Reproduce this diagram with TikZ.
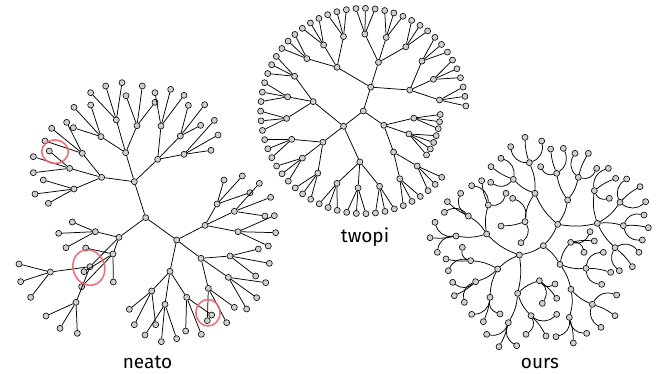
\documentclass[tikz,border=0pt]{standalone}
\usepackage{fontspec}
\setmainfont{Fira Sans}
\definecolor{nodegray}{RGB}{208,208,208}
\definecolor{flagred}{RGB}{238,98,106}
\begin{document}
\begin{tikzpicture}[x=1pt, y=-1pt,
    vtx/.style={circle, draw, fill=nodegray, line width=0.6pt, inner sep=0pt, minimum size=6pt},
    link/.style={line width=0.75pt},
    curl/.style={bend left=40}, uncurl/.style={bend right=40},
    flag/.style={draw=flagred, line width=1.6pt, draw opacity=0.9},
    lbl/.style={font=\fontsize{19}{22}\selectfont, anchor=base}]
\useasboundingbox (0,0) rectangle (658,373);

% ---------------- neato ----------------
\begin{scope}[shift={(0,70)}, scale=1/3]
% Marking centre and first ring
\node[vtx] (ne0) at (437,443) {};
\node[vtx] (ne1) at (403,335) {};
\node[vtx] (ne2) at (357,502) {};
\node[vtx] (ne3) at (530,510) {};
% Marking branch 1
\node[vtx] (ne11) at (305,322) {};
\node[vtx] (ne12) at (377,248) {};
\node[vtx] (ne13) at (473,268) {};
\node[vtx] (ne111) at (247,250) {};
\node[vtx] (ne112) at (209,295) {};
\node[vtx] (ne113) at (222,357) {};
\node[vtx] (ne121) at (303,200) {};
\node[vtx] (ne122) at (349,150) {};
\node[vtx] (ne123) at (411,167) {};
\node[vtx] (ne131) at (483,168) {};
\node[vtx] (ne132) at (541,198) {};
\node[vtx] (ne133) at (552,253) {};
\node[vtx] (ne111a) at (155,175) {}; \node[vtx] (ne111b) at (200,157) {}; \node[vtx] (ne111c) at (135,213) {};
\node[vtx] (ne112a) at (148,243) {}; \node[vtx] (ne112b) at (100,260) {}; \node[vtx] (ne112c) at (100,308) {};
\node[vtx] (ne113a) at (130,330) {}; \node[vtx] (ne113b) at (105,372) {}; \node[vtx] (ne113c) at (145,400) {};
\node[vtx] (ne121a) at (222,112) {}; \node[vtx] (ne121b) at (272,105) {}; \node[vtx] (ne121c) at (220,173) {};
\node[vtx] (ne122a) at (272,68) {};  \node[vtx] (ne122b) at (317,48) {};  \node[vtx] (ne122c) at (366,38) {};
\node[vtx] (ne123a) at (378,77) {};  \node[vtx] (ne123b) at (427,48) {};  \node[vtx] (ne123c) at (465,97) {};
\node[vtx] (ne131a) at (465,68) {};  \node[vtx] (ne131b) at (512,58) {};  \node[vtx] (ne131c) at (552,76) {};
\node[vtx] (ne132a) at (565,106) {}; \node[vtx] (ne132b) at (614,104) {}; \node[vtx] (ne132c) at (602,166) {};
\node[vtx] (ne133a) at (643,151) {}; \node[vtx] (ne133b) at (654,195) {}; \node[vtx] (ne133c) at (633,241) {};
% Marking branch 3
\node[vtx] (ne31) at (615,466) {};
\node[vtx] (ne32) at (603,565) {};
\node[vtx] (ne33) at (510,604) {};
\node[vtx] (ne311) at (651,402) {};
\node[vtx] (ne312) at (703,424) {};
\node[vtx] (ne313) at (714,485) {};
\node[vtx] (ne321) at (690,558) {};
\node[vtx] (ne322) at (685,622) {};
\node[vtx] (ne323) at (625,655) {};
\node[vtx] (ne331) at (455,663) {};
\node[vtx] (ne332) at (495,703) {};
\node[vtx] (ne333) at (560,682) {};
\node[vtx] (ne311a) at (672,330) {}; \node[vtx] (ne311b) at (727,318) {}; \node[vtx] (ne311c) at (750,368) {};
\node[vtx] (ne312a) at (778,340) {}; \node[vtx] (ne312b) at (812,382) {}; \node[vtx] (ne312c) at (795,438) {};
\node[vtx] (ne313a) at (823,437) {}; \node[vtx] (ne313b) at (827,488) {}; \node[vtx] (ne313c) at (805,528) {};
\node[vtx] (ne321a) at (775,537) {}; \node[vtx] (ne321b) at (808,580) {}; \node[vtx] (ne321c) at (767,618) {};
\node[vtx] (ne322a) at (797,638) {}; \node[vtx] (ne322b) at (770,683) {}; \node[vtx] (ne322c) at (740,717) {};
\node[vtx] (ne323a) at (703,712) {}; \node[vtx] (ne323b) at (680,758) {}; \node[vtx] (ne323c) at (622,752) {};
\node[vtx] (ne331a) at (388,718) {}; \node[vtx] (ne331b) at (403,764) {}; \node[vtx] (ne331c) at (467,764) {};
\node[vtx] (ne332a) at (435,795) {}; \node[vtx] (ne332b) at (484,815) {}; \node[vtx] (ne332c) at (530,806) {};
\node[vtx] (ne333a) at (557,783) {}; \node[vtx] (ne333b) at (604,793) {}; \node[vtx] (ne333c) at (635,735) {};
% Marking branch 2
\node[vtx] (ne21) at (286,485) {};
\node[vtx] (ne22) at (339,552) {};
\node[vtx] (ne23) at (270,590) {};
\node[vtx] (ne231) at (151,606) {};
\node[vtx] (ne232) at (228,697) {};
\node[vtx] (ne21a) at (217,456) {}; \node[vtx] (ne21b) at (176,490) {}; \node[vtx] (ne21c) at (198,533) {};
\node[vtx] (ne22a) at (257,534) {}; \node[vtx] (ne22b) at (252,605) {}; \node[vtx] (ne22c) at (245,650) {}; \node[vtx] (ne22d) at (340,636) {};
\node[vtx] (ne231a) at (57,582) {};  \node[vtx] (ne231b) at (62,635) {};  \node[vtx] (ne231c) at (92,682) {};
\node[vtx] (ne232a) at (138,738) {}; \node[vtx] (ne232b) at (180,775) {}; \node[vtx] (ne232c) at (232,790) {};
% Drawing segments
\draw[link] (ne0) edge (ne1) edge (ne2) edge (ne3);
\draw[link] (ne1) edge (ne11) edge (ne12) edge (ne13);
\draw[link] (ne11) edge (ne111) edge (ne112) edge (ne113);
\draw[link] (ne12) edge (ne121) edge (ne122) edge (ne123);
\draw[link] (ne13) edge (ne131) edge (ne132) edge (ne133);
\draw[link] (ne111) edge (ne111a) edge (ne111b) edge (ne111c);
\draw[link] (ne112) edge (ne112a) edge (ne112b) edge (ne112c);
\draw[link] (ne113) edge (ne113a) edge (ne113b) edge (ne113c);
\draw[link] (ne121) edge (ne121a) edge (ne121b) edge (ne121c);
\draw[link] (ne122) edge (ne122a) edge (ne122b) edge (ne122c);
\draw[link] (ne123) edge (ne123a) edge (ne123b) edge (ne123c);
\draw[link] (ne131) edge (ne131a) edge (ne131b) edge (ne131c);
\draw[link] (ne132) edge (ne132a) edge (ne132b) edge (ne132c);
\draw[link] (ne133) edge (ne133a) edge (ne133b) edge (ne133c);
\draw[link] (ne3) edge (ne31) edge (ne32) edge (ne33);
\draw[link] (ne31) edge (ne311) edge (ne312) edge (ne313);
\draw[link] (ne32) edge (ne321) edge (ne322) edge (ne323);
\draw[link] (ne33) edge (ne331) edge (ne332) edge (ne333);
\draw[link] (ne311) edge (ne311a) edge (ne311b) edge (ne311c);
\draw[link] (ne312) edge (ne312a) edge (ne312b) edge (ne312c);
\draw[link] (ne313) edge (ne313a) edge (ne313b) edge (ne313c);
\draw[link] (ne321) edge (ne321a) edge (ne321b) edge (ne321c);
\draw[link] (ne322) edge (ne322a) edge (ne322b) edge (ne322c);
\draw[link] (ne323) edge (ne323a) edge (ne323b) edge (ne323c);
\draw[link] (ne331) edge (ne331a) edge (ne331b) edge (ne331c);
\draw[link] (ne332) edge (ne332a) edge (ne332b) edge (ne332c);
\draw[link] (ne333) edge (ne333a) edge (ne333b) edge (ne333c);
\draw[link] (ne2) edge (ne21) edge (ne22) edge (ne23);
\draw[link] (ne21) edge (ne21a) edge (ne21b) edge (ne21c);
\draw[link] (ne22) edge (ne22a) edge (ne22b) edge (ne22c) edge (ne22d);
\draw[link] (ne23) edge (ne231) edge (ne232);
\draw[link] (ne231) edge (ne231a) edge (ne231b) edge (ne231c);
\draw[link] (ne232) edge (ne232a) edge (ne232b) edge (ne232c);
\end{scope}

% Marking the overlaps
\draw[flag] (55,151.7) ellipse [x radius=13.3, y radius=11.7];
\draw[flag, rotate around={20:(88.8,267.5)}] (88.8,267.5) ellipse [x radius=15.7, y radius=18];
\draw[flag] (208,312.7) ellipse [x radius=12, y radius=13.3];

% ---------------- twopi ----------------
\begin{scope}[shift={(363.3,111)}, yscale=-1]
% Marking rings 0 to 2
\node[vtx] (tw0) at (0:0) {};
\node[vtx] (twA) at (72.7:25) {};
\node[vtx] (twB) at (217.7:25) {};
\node[vtx] (twC) at (325.2:25) {};
\node[vtx] (twA1) at (121.0:51) {}; \node[vtx] (twA2) at (72.7:51) {};  \node[vtx] (twA3) at (24.3:51) {};
\node[vtx] (twB1) at (266.1:51) {}; \node[vtx] (twB2) at (217.7:51) {}; \node[vtx] (twB3) at (169.4:51) {};
\node[vtx] (twC1) at (352.0:51) {}; \node[vtx] (twC2) at (333.3:51) {}; \node[vtx] (twC3) at (306.4:51) {};
% Marking ring 3
\node[vtx] (twA11) at (137.1:77) {}; \node[vtx] (twA12) at (121.0:77) {}; \node[vtx] (twA13) at (104.9:77) {};
\node[vtx] (twA21) at (88.8:77) {};  \node[vtx] (twA22) at (72.7:77) {};  \node[vtx] (twA23) at (56.5:77) {};
\node[vtx] (twA31) at (40.4:77) {};  \node[vtx] (twA32) at (24.3:77) {};  \node[vtx] (twA33) at (8.2:77) {};
\node[vtx] (twB11) at (282.2:77) {}; \node[vtx] (twB12) at (266.1:77) {}; \node[vtx] (twB13) at (250.0:77) {};
\node[vtx] (twB21) at (233.8:77) {}; \node[vtx] (twB22) at (217.7:77) {}; \node[vtx] (twB23) at (201.6:77) {};
\node[vtx] (twB31) at (185.5:77) {}; \node[vtx] (twB32) at (169.4:77) {}; \node[vtx] (twB33) at (153.2:77) {};
\node[vtx] (twC1a) at (357.4:77) {}; \node[vtx] (twC1b) at (352.0:77) {}; \node[vtx] (twC1c) at (346.7:77) {};
\node[vtx] (twC2a) at (341.3:77) {}; \node[vtx] (twC2b) at (335.9:77) {}; \node[vtx] (twC2c) at (330.5:77) {}; \node[vtx] (twC2d) at (325.2:77) {};
\node[vtx] (twC31) at (314.4:77) {}; \node[vtx] (twC32) at (298.3:77) {};
% Marking outer ring
\node[vtx] (twA11a) at (142.5:102.7) {}; \node[vtx] (twA11b) at (137.1:102.7) {}; \node[vtx] (twA11c) at (131.8:102.7) {};
\node[vtx] (twA12a) at (126.4:102.7) {}; \node[vtx] (twA12b) at (121.0:102.7) {}; \node[vtx] (twA12c) at (115.6:102.7) {};
\node[vtx] (twA13a) at (110.3:102.7) {}; \node[vtx] (twA13b) at (104.9:102.7) {}; \node[vtx] (twA13c) at (99.5:102.7) {};
\node[vtx] (twA21a) at (94.1:102.7) {};  \node[vtx] (twA21b) at (88.8:102.7) {};  \node[vtx] (twA21c) at (83.4:102.7) {};
\node[vtx] (twA22a) at (78.0:102.7) {};  \node[vtx] (twA22b) at (72.7:102.7) {};  \node[vtx] (twA22c) at (67.3:102.7) {};
\node[vtx] (twA23a) at (61.9:102.7) {};  \node[vtx] (twA23b) at (56.5:102.7) {};  \node[vtx] (twA23c) at (51.2:102.7) {};
\node[vtx] (twA31a) at (45.8:102.7) {};  \node[vtx] (twA31b) at (40.4:102.7) {};  \node[vtx] (twA31c) at (35.0:102.7) {};
\node[vtx] (twA32a) at (29.7:102.7) {};  \node[vtx] (twA32b) at (24.3:102.7) {};  \node[vtx] (twA32c) at (18.9:102.7) {};
\node[vtx] (twA33a) at (13.5:102.7) {};  \node[vtx] (twA33b) at (8.2:102.7) {};   \node[vtx] (twA33c) at (2.8:102.7) {};
\node[vtx] (twC31a) at (319.8:102.7) {}; \node[vtx] (twC31b) at (314.4:102.7) {}; \node[vtx] (twC31c) at (309.1:102.7) {};
\node[vtx] (twC32a) at (303.7:102.7) {}; \node[vtx] (twC32b) at (298.3:102.7) {}; \node[vtx] (twC32c) at (292.9:102.7) {};
\node[vtx] (twB11a) at (287.6:102.7) {}; \node[vtx] (twB11b) at (282.2:102.7) {}; \node[vtx] (twB11c) at (276.8:102.7) {};
\node[vtx] (twB12a) at (271.5:102.7) {}; \node[vtx] (twB12b) at (266.1:102.7) {}; \node[vtx] (twB12c) at (260.7:102.7) {};
\node[vtx] (twB13a) at (255.3:102.7) {}; \node[vtx] (twB13b) at (250.0:102.7) {}; \node[vtx] (twB13c) at (244.6:102.7) {};
\node[vtx] (twB21a) at (239.2:102.7) {}; \node[vtx] (twB21b) at (233.8:102.7) {}; \node[vtx] (twB21c) at (228.5:102.7) {};
\node[vtx] (twB22a) at (223.1:102.7) {}; \node[vtx] (twB22b) at (217.7:102.7) {}; \node[vtx] (twB22c) at (212.4:102.7) {};
\node[vtx] (twB23a) at (207.0:102.7) {}; \node[vtx] (twB23b) at (201.6:102.7) {}; \node[vtx] (twB23c) at (196.2:102.7) {};
\node[vtx] (twB31a) at (190.9:102.7) {}; \node[vtx] (twB31b) at (185.5:102.7) {}; \node[vtx] (twB31c) at (180.1:102.7) {};
\node[vtx] (twB32a) at (174.7:102.7) {}; \node[vtx] (twB32b) at (169.4:102.7) {}; \node[vtx] (twB32c) at (164.0:102.7) {};
\node[vtx] (twB33a) at (158.6:102.7) {}; \node[vtx] (twB33b) at (153.2:102.7) {}; \node[vtx] (twB33c) at (147.9:102.7) {};
% Drawing segments
\draw[link] (tw0) edge (twA) edge (twB) edge (twC);
\draw[link] (twA) edge (twA1) edge (twA2) edge (twA3);
\draw[link] (twB) edge (twB1) edge (twB2) edge (twB3);
\draw[link] (twC) edge (twC1) edge (twC2) edge (twC3);
\draw[link] (twA1) edge (twA11) edge (twA12) edge (twA13);
\draw[link] (twA2) edge (twA21) edge (twA22) edge (twA23);
\draw[link] (twA3) edge (twA31) edge (twA32) edge (twA33);
\draw[link] (twB1) edge (twB11) edge (twB12) edge (twB13);
\draw[link] (twB2) edge (twB21) edge (twB22) edge (twB23);
\draw[link] (twB3) edge (twB31) edge (twB32) edge (twB33);
\draw[link] (twC1) edge (twC1a) edge (twC1b) edge (twC1c);
\draw[link] (twC2) edge (twC2a) edge (twC2b) edge (twC2c) edge (twC2d);
\draw[link] (twC3) edge (twC31) edge (twC32);
\draw[link] (twA11) edge (twA11a) edge (twA11b) edge (twA11c);
\draw[link] (twA12) edge (twA12a) edge (twA12b) edge (twA12c);
\draw[link] (twA13) edge (twA13a) edge (twA13b) edge (twA13c);
\draw[link] (twA21) edge (twA21a) edge (twA21b) edge (twA21c);
\draw[link] (twA22) edge (twA22a) edge (twA22b) edge (twA22c);
\draw[link] (twA23) edge (twA23a) edge (twA23b) edge (twA23c);
\draw[link] (twA31) edge (twA31a) edge (twA31b) edge (twA31c);
\draw[link] (twA32) edge (twA32a) edge (twA32b) edge (twA32c);
\draw[link] (twA33) edge (twA33a) edge (twA33b) edge (twA33c);
\draw[link] (twB11) edge (twB11a) edge (twB11b) edge (twB11c);
\draw[link] (twB12) edge (twB12a) edge (twB12b) edge (twB12c);
\draw[link] (twB13) edge (twB13a) edge (twB13b) edge (twB13c);
\draw[link] (twB21) edge (twB21a) edge (twB21b) edge (twB21c);
\draw[link] (twB22) edge (twB22a) edge (twB22b) edge (twB22c);
\draw[link] (twB23) edge (twB23a) edge (twB23b) edge (twB23c);
\draw[link] (twB31) edge (twB31a) edge (twB31b) edge (twB31c);
\draw[link] (twB32) edge (twB32a) edge (twB32b) edge (twB32c);
\draw[link] (twB33) edge (twB33a) edge (twB33b) edge (twB33c);
\draw[link] (twC31) edge (twC31a) edge (twC31b) edge (twC31c);
\draw[link] (twC32) edge (twC32a) edge (twC32b) edge (twC32c);
\end{scope}

% ---------------- ours ----------------
\begin{scope}[shift={(420,125)}, scale=1/3]
% Marking centre and first ring
\node[vtx] (ou0) at (370,362) {};
\node[vtx] (ouP) at (298,390) {};
\node[vtx] (ouQ) at (413,298) {};
\node[vtx] (ouR) at (420,418) {};
% Marking branch Q
\node[vtx] (ouQ1) at (345,205) {};
\node[vtx] (ouQ2) at (443,225) {};
\node[vtx] (ouQ3) at (532,295) {};
\node[vtx] (ouQ11) at (328,113) {};
\node[vtx] (ouQ12) at (280,163) {};
\node[vtx] (ouQ13) at (315,290) {};
\node[vtx] (ouQ21) at (410,145) {};
\node[vtx] (ouQ22) at (475,157) {};
\node[vtx] (ouQ31) at (523,197) {};
\node[vtx] (ouQ32) at (600,232) {};
\node[vtx] (ouQ33) at (610,302) {};
\node[vtx] (ouQ34) at (585,368) {};
\node[vtx] (ouQ11a) at (272,65) {};  \node[vtx] (ouQ11b) at (315,37) {};  \node[vtx] (ouQ11c) at (365,48) {};
\node[vtx] (ouQ12a) at (212,172) {}; \node[vtx] (ouQ12b) at (213,125) {}; \node[vtx] (ouQ12c) at (243,100) {};
\node[vtx] (ouQ13a) at (303,353) {}; \node[vtx] (ouQ13b) at (243,303) {}; \node[vtx] (ouQ13c) at (278,220) {};
\node[vtx] (ouQ21a) at (362,125) {}; \node[vtx] (ouQ21b) at (392,72) {};  \node[vtx] (ouQ21c) at (430,70) {};
\node[vtx] (ouQ22a) at (465,85) {};  \node[vtx] (ouQ22b) at (505,85) {};  \node[vtx] (ouQ22c) at (530,130) {};
\node[vtx] (ouQ31a) at (565,130) {}; \node[vtx] (ouQ31b) at (587,160) {}; \node[vtx] (ouQ31c) at (568,220) {};
\node[vtx] (ouQ32a) at (620,162) {}; \node[vtx] (ouQ32b) at (660,185) {}; \node[vtx] (ouQ32c) at (677,230) {};
\node[vtx] (ouQ33a) at (672,270) {}; \node[vtx] (ouQ33b) at (685,308) {}; \node[vtx] (ouQ33c) at (667,345) {};
\node[vtx] (ouQ34a) at (657,382) {}; \node[vtx] (ouQ34b) at (637,425) {}; \node[vtx] (ouQ34c) at (598,437) {};
% Marking branch P
\node[vtx] (ouP1) at (200,327) {};
\node[vtx] (ouP2) at (233,432) {};
\node[vtx] (ouP3) at (293,505) {};
\node[vtx] (ouP11) at (108,333) {};
\node[vtx] (ouP12) at (145,273) {};
\node[vtx] (ouP13) at (205,240) {};
\node[vtx] (ouP21) at (152,407) {};
\node[vtx] (ouP22) at (167,470) {};
\node[vtx] (ouP23) at (210,517) {};
\node[vtx] (ouP31) at (265,593) {};
\node[vtx] (ouP32) at (333,572) {};
\node[vtx] (ouP33) at (358,467) {};
\node[vtx] (ouP11a) at (45,292) {};  \node[vtx] (ouP11b) at (30,338) {};  \node[vtx] (ouP11c) at (52,382) {};
\node[vtx] (ouP12a) at (122,205) {}; \node[vtx] (ouP12b) at (82,230) {};  \node[vtx] (ouP12c) at (73,262) {};
\node[vtx] (ouP13a) at (258,205) {}; \node[vtx] (ouP13b) at (185,167) {}; \node[vtx] (ouP13c) at (155,182) {};
\node[vtx] (ouP21a) at (127,367) {}; \node[vtx] (ouP21b) at (78,402) {};  \node[vtx] (ouP21c) at (85,437) {};
\node[vtx] (ouP22a) at (98,472) {};  \node[vtx] (ouP22b) at (103,512) {}; \node[vtx] (ouP22c) at (133,532) {};
\node[vtx] (ouP23a) at (155,568) {}; \node[vtx] (ouP23b) at (190,590) {}; \node[vtx] (ouP23c) at (240,567) {};
\node[vtx] (ouP31a) at (200,628) {}; \node[vtx] (ouP31b) at (237,665) {}; \node[vtx] (ouP31c) at (290,662) {};
\node[vtx] (ouP32a) at (318,628) {}; \node[vtx] (ouP32b) at (378,633) {}; \node[vtx] (ouP32c) at (410,568) {};
\node[vtx] (ouP33a) at (367,535) {}; \node[vtx] (ouP33b) at (410,520) {}; \node[vtx] (ouP33c) at (405,477) {};
% Marking branch R
\node[vtx] (ouR1) at (452,352) {};
\node[vtx] (ouR2) at (498,430) {};
\node[vtx] (ouR3) at (453,493) {};
\node[vtx] (ouR31) at (448,577) {};
\node[vtx] (ouR32) at (517,538) {};
\node[vtx] (ouR1a) at (492,382) {}; \node[vtx] (ouR1b) at (523,348) {}; \node[vtx] (ouR1c) at (510,320) {};
\node[vtx] (ouR2a) at (550,382) {}; \node[vtx] (ouR2b) at (572,442) {}; \node[vtx] (ouR2c) at (545,478) {};
\node[vtx] (ouR31a) at (408,635) {}; \node[vtx] (ouR31b) at (460,654) {}; \node[vtx] (ouR31c) at (500,625) {};
\node[vtx] (ouR32a) at (590,510) {}; \node[vtx] (ouR32b) at (585,572) {}; \node[vtx] (ouR32c) at (543,607) {};
% Drawing segments
\draw[link] (ou0) edge[bend left=10] (ouP) edge[bend right=10] (ouQ) edge[bend left=10] (ouR);
\draw[link] (ouQ) edge[bend left=12] (ouQ1) edge[bend right=12] (ouQ2) edge[bend right=10] (ouQ3);
\draw[link] (ouP) edge[bend left=12] (ouP1) edge[bend right=10] (ouP2) edge[bend left=10] (ouP3);
\draw[link] (ouR) edge[bend left=15] (ouR1) edge[bend right=12] (ouR2) edge[bend left=10] (ouR3);
\draw[link] (ouQ1) edge[bend right=12] (ouQ11) edge[bend left=12] (ouQ12) edge[bend right=15] (ouQ13);
\draw[link] (ouQ2) edge[bend left=12] (ouQ21) edge[bend right=12] (ouQ22);
\draw[link] (ouQ3) edge[bend left=12] (ouQ31) edge[bend right=12] (ouQ32) edge[bend left=10] (ouQ33) edge[bend right=10] (ouQ34);
\draw[link] (ouP1) edge[bend left=12] (ouP11) edge[bend right=12] (ouP12) edge[bend left=12] (ouP13);
\draw[link] (ouP2) edge[bend right=12] (ouP21) edge[bend left=12] (ouP22) edge[bend right=12] (ouP23);
\draw[link] (ouP3) edge[bend left=12] (ouP31) edge[bend right=12] (ouP32) edge[bend left=12] (ouP33);
\draw[link] (ouR3) edge[bend left=12] (ouR31) edge[bend right=12] (ouR32);
\draw[link] (ouQ11) edge[curl] (ouQ11a) edge[bend left=8] (ouQ11b) edge[uncurl] (ouQ11c);
\draw[link] (ouQ12) edge[curl] (ouQ12a) edge[bend left=8] (ouQ12b) edge[uncurl] (ouQ12c);
\draw[link] (ouQ13) edge[curl] (ouQ13a) edge[bend left=8] (ouQ13b) edge[uncurl] (ouQ13c);
\draw[link] (ouQ21) edge[curl] (ouQ21a) edge[bend left=8] (ouQ21b) edge[uncurl] (ouQ21c);
\draw[link] (ouQ22) edge[curl] (ouQ22a) edge[bend left=8] (ouQ22b) edge[uncurl] (ouQ22c);
\draw[link] (ouQ31) edge[curl] (ouQ31a) edge[bend left=8] (ouQ31b) edge[uncurl] (ouQ31c);
\draw[link] (ouQ32) edge[curl] (ouQ32a) edge[bend left=8] (ouQ32b) edge[uncurl] (ouQ32c);
\draw[link] (ouQ33) edge[curl] (ouQ33a) edge[bend left=8] (ouQ33b) edge[uncurl] (ouQ33c);
\draw[link] (ouQ34) edge[curl] (ouQ34a) edge[bend left=8] (ouQ34b) edge[uncurl] (ouQ34c);
\draw[link] (ouP11) edge[curl] (ouP11a) edge[bend left=8] (ouP11b) edge[uncurl] (ouP11c);
\draw[link] (ouP12) edge[curl] (ouP12a) edge[bend left=8] (ouP12b) edge[uncurl] (ouP12c);
\draw[link] (ouP13) edge[uncurl] (ouP13a) edge[bend left=8] (ouP13b) edge[uncurl] (ouP13c);
\draw[link] (ouP21) edge[curl] (ouP21a) edge[bend left=8] (ouP21b) edge[uncurl] (ouP21c);
\draw[link] (ouP22) edge[curl] (ouP22a) edge[bend left=8] (ouP22b) edge[uncurl] (ouP22c);
\draw[link] (ouP23) edge[curl] (ouP23a) edge[bend left=8] (ouP23b) edge[uncurl] (ouP23c);
\draw[link] (ouP31) edge[curl] (ouP31a) edge[bend left=8] (ouP31b) edge[uncurl] (ouP31c);
\draw[link] (ouP32) edge[curl] (ouP32a) edge[bend left=8] (ouP32b) edge[uncurl] (ouP32c);
\draw[link] (ouP33) edge[curl] (ouP33a) edge[bend left=8] (ouP33b) edge[uncurl] (ouP33c);
\draw[link] (ouR1) edge[curl] (ouR1a) edge[bend left=8] (ouR1b) edge[uncurl] (ouR1c);
\draw[link] (ouR2) edge[curl] (ouR2a) edge[bend left=8] (ouR2b) edge[uncurl] (ouR2c);
\draw[link] (ouR31) edge[curl] (ouR31a) edge[bend left=8] (ouR31b) edge[uncurl] (ouR31c);
\draw[link] (ouR32) edge[curl] (ouR32a) edge[bend left=8] (ouR32b) edge[uncurl] (ouR32c);
\end{scope}

% Marking the layout names
\node[lbl] (neatoname) at (147.5,368) {neato};
\node[lbl] (twopiname) at (365,242) {twopi};
\node[lbl] (oursname) at (540,368) {ours};
\end{tikzpicture}
\end{document}
